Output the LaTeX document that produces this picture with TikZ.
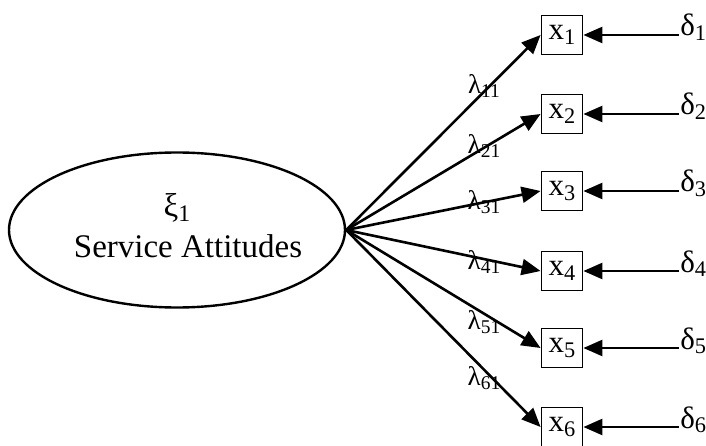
\documentclass[tikz,border=0pt]{standalone}
\usepackage{fontspec}
\setmainfont{Liberation Serif}
\usetikzlibrary{arrows.meta,shapes.geometric}
\newcommand{\lowidx}[1]{\raisebox{-0.35ex}{\fontsize{0.72em}{0.72em}\selectfont #1}}
\begin{document}
\begin{tikzpicture}[x=1pt,y=-1pt,
  line width=2.6pt,
  arr/.style={-{Triangle[length=19pt,width=16pt]}},
  obs/.style={draw,line width=1.8pt,minimum width=41pt,minimum height=39pt,inner sep=0pt,font=\fontsize{31}{31}\selectfont},
  err/.style={anchor=base west,inner sep=0pt,font=\fontsize{31}{31}\selectfont},
  load/.style={inner sep=0pt,font=\fontsize{27}{27}\selectfont}]
\useasboundingbox (0,0) rectangle (706,446);

% latent factor
\node[draw,ellipse,line width=2.4pt,minimum width=336pt,minimum height=155pt,inner sep=0pt] (xi) at (177,230) {};
\node[font=\fontsize{33}{33}\selectfont] (xil) at (177,208) {ξ\lowidx{1}};
\node[font=\fontsize{33}{33}\selectfont] (xin) at (188,246) {Service Attitudes};
\coordinate (src) at (xi.east);

% indicators
\foreach \i/\y in {1/35,2/114,3/191,4/271,5/348,6/427}{
  \node[obs] (x\i) at (562,\y) {x\lowidx{\i}};
  \node[err] (d\i) at (679,\y+1) {δ\lowidx{\i}};
  \draw[arr] (src) -- (x\i.west);
  \draw[arr] (d\i.west |- x\i.east) -- (x\i.east);
}

% loadings
\node[load] (l1) at (484,86) {λ\lowidx{11}};
\node[load] (l2) at (484,146) {λ\lowidx{21}};
\node[load] (l3) at (484,202) {λ\lowidx{31}};
\node[load] (l4) at (484,262) {λ\lowidx{41}};
\node[load] (l5) at (484,322) {λ\lowidx{51}};
\node[load] (l6) at (484,378) {λ\lowidx{61}};
\end{tikzpicture}
\end{document}
